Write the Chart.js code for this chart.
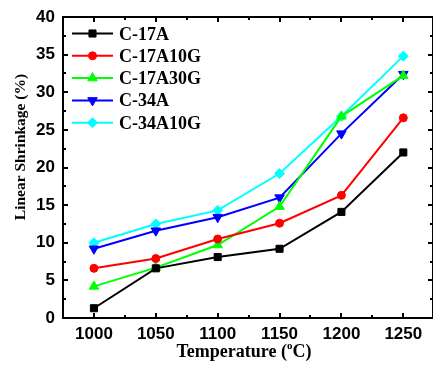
<!DOCTYPE html>
<html>
<head>
<meta charset="utf-8">
<script src="https://cdn.jsdelivr.net/npm/chart.js@4/dist/chart.umd.min.js"></script>
<style>
html,body{margin:0;padding:0;background:#fff;overflow:hidden;}
#wrap{width:433px;height:369px;position:relative;}
</style>
</head>
<body>
<div id="wrap"><canvas id="c" width="433" height="369"></canvas></div>
<script>
// ---- data ----
const temps = [1000, 1050, 1100, 1150, 1200, 1250];
const seriesNames = ['C-17A', 'C-17A10G', 'C-17A30G', 'C-34A', 'C-34A10G'];
const c17a    = [1.3, 6.6, 8.1, 9.2, 14.1, 22.0];
const c17a10g = [6.6, 7.9, 10.5, 12.6, 16.3, 26.6];
const c17a30g = [4.2, 6.7, 9.7, 14.8, 26.8, 32.2];
const c34a    = [9.2, 11.6, 13.4, 16.0, 24.5, 32.4];
const c34a10g = [10.0, 12.5, 14.3, 19.2, 26.8, 34.8];
const xTicks = [1000, 1050, 1100, 1150, 1200, 1250];
const yTicks = [0, 5, 10, 15, 20, 25, 30, 35, 40];

const seriesValues = [c17a, c17a10g, c17a30g, c34a, c34a10g];
const colors = ['#000000', '#ff0000', '#00ff00', '#0000ff', '#00ffff'];
const styles = [
  {ps: 'rect', r: 5, rot: 0},
  {ps: 'circle', r: 4, rot: 0},
  {ps: 'triangle', r: 5.5, rot: 0},
  {ps: 'triangle', r: 5.5, rot: 180},
  {ps: 'rectRot', r: 5, rot: 0}
];

const datasets = seriesNames.map((n, i) => ({
  label: n,
  data: temps.map((t, j) => ({x: t, y: seriesValues[i][j]})),
  borderColor: colors[i],
  backgroundColor: colors[i],
  borderWidth: 2,
  pointStyle: styles[i].ps,
  pointRadius: styles[i].r,
  pointRotation: styles[i].rot,
  pointBorderWidth: 1,
  tension: 0
}));

function drawMarker(ctx, st, x, y, color) {
  const r = st.r;
  let rad = st.rot * Math.PI / 180;
  ctx.save();
  ctx.fillStyle = color; ctx.strokeStyle = color; ctx.lineWidth = 1;
  ctx.beginPath();
  if (st.ps === 'rect') {
    const s = Math.SQRT1_2 * r;
    ctx.rect(x - s, y - s, 2 * s, 2 * s);
  } else if (st.ps === 'circle') {
    ctx.arc(x, y, r, 0, Math.PI * 2);
  } else if (st.ps === 'triangle') {
    ctx.moveTo(x + Math.sin(rad) * r, y - Math.cos(rad) * r);
    rad += 2 * Math.PI / 3;
    ctx.lineTo(x + Math.sin(rad) * r, y - Math.cos(rad) * r);
    rad += 2 * Math.PI / 3;
    ctx.lineTo(x + Math.sin(rad) * r, y - Math.cos(rad) * r);
    ctx.closePath();
  } else if (st.ps === 'rectRot') {
    ctx.moveTo(x - r, y); ctx.lineTo(x, y - r); ctx.lineTo(x + r, y); ctx.lineTo(x, y + r);
    ctx.closePath();
  }
  ctx.fill(); ctx.stroke();
  ctx.restore();
}

const framePlugin = {
  id: 'frame',
  afterDraw(chart) {
    const ctx = chart.ctx;
    const a = chart.chartArea;
    const xs = chart.scales.x, ys = chart.scales.y;
    ctx.save();
    ctx.strokeStyle = '#000';
    ctx.lineWidth = 2;
    ctx.strokeRect(a.left, a.top, a.right - a.left, a.bottom - a.top);
    ctx.beginPath();
    for (let v = 1000; v <= 1250; v += 25) {
      const px = Math.round(xs.getPixelForValue(v));
      const len = (v % 50 === 0) ? 5 : 3;
      ctx.moveTo(px, a.bottom); ctx.lineTo(px, a.bottom - len);
      ctx.moveTo(px, a.top); ctx.lineTo(px, a.top + len);
    }
    for (let v = 0; v <= 40; v += 2.5) {
      const py = Math.round(ys.getPixelForValue(v));
      const len = (v % 5 === 0) ? 5 : 3;
      ctx.moveTo(a.left, py); ctx.lineTo(a.left + len, py);
      ctx.moveTo(a.right, py); ctx.lineTo(a.right - len, py);
    }
    ctx.stroke();

    const rows = [33.5, 55.8, 78.1, 100.4, 122.7];
    ctx.font = 'bold 18px "Liberation Serif", "Times New Roman", serif';
    ctx.textBaseline = 'alphabetic';
    ctx.textAlign = 'left';
    seriesNames.forEach((n, i) => {
      const y = rows[i];
      ctx.strokeStyle = colors[i];
      ctx.lineWidth = 2;
      ctx.beginPath(); ctx.moveTo(72, y); ctx.lineTo(113, y); ctx.stroke();
      drawMarker(ctx, styles[i], 92.5, y, colors[i]);
      ctx.fillStyle = '#000';
      ctx.fillText(n, 119, y + 6);
    });

    ctx.fillStyle = '#000';
    ctx.save();
    ctx.translate(25, 147);
    ctx.rotate(-Math.PI / 2);
    ctx.font = 'bold 15.5px "Liberation Serif", "Times New Roman", serif';
    ctx.textAlign = 'center';
    ctx.textBaseline = 'alphabetic';
    ctx.fillText('Linear Shrinkage (%)', 0, 0);
    ctx.restore();

    const big = 'bold 18px "Liberation Serif", "Times New Roman", serif';
    const small = 'bold 11px "Liberation Serif", "Times New Roman", serif';
    const p1 = 'Temperature (', p2 = 'o', p3 = 'C)';
    ctx.font = big; const w1 = ctx.measureText(p1).width, w3 = ctx.measureText(p3).width;
    ctx.font = small; const w2 = ctx.measureText(p2).width;
    let x0 = 244 - (w1 + w2 + w3) / 2;
    const by = 357;
    ctx.textAlign = 'left';
    ctx.font = big; ctx.fillText(p1, x0, by); x0 += w1;
    ctx.font = small; ctx.fillText(p2, x0, by - 8); x0 += w2;
    ctx.font = big; ctx.fillText(p3, x0, by);
    ctx.restore();
  }
};

new Chart(document.getElementById('c'), {
  type: 'line',
  data: {datasets},
  options: {
    responsive: false,
    animation: false,
    devicePixelRatio: 1,
    layout: {autoPadding: false, padding: {top: 17, right: 0, left: 0, bottom: 0}},
    plugins: {legend: {display: false}, tooltip: {enabled: false}},
    scales: {
      x: {
        type: 'linear', min: 975, max: 1274,
        grid: {display: false, drawTicks: false},
        border: {display: false},
        afterBuildTicks: s => { s.ticks = xTicks.map(v => ({value: v})); },
        afterFit: s => { s.height = 51; s.paddingLeft = 0; s.paddingRight = 0; },
        ticks: {
          padding: 6, color: '#000', maxRotation: 0, autoSkip: false,
          callback: v => String(v),
          font: {family: '"Liberation Sans", Arial, sans-serif', size: 17, weight: 'bold'}
        }
      },
      y: {
        type: 'linear', min: 0, max: 40,
        grid: {display: false, drawTicks: false},
        border: {display: false},
        afterBuildTicks: s => { s.ticks = yTicks.map(v => ({value: v})); },
        afterFit: s => { s.width = 63; s.paddingTop = 0; s.paddingBottom = 0; },
        ticks: {
          padding: 8, color: '#000', autoSkip: false,
          callback: v => String(v),
          font: {family: '"Liberation Sans", Arial, sans-serif', size: 17, weight: 'bold'}
        }
      }
    }
  },
  plugins: [framePlugin]
});
</script>
</body>
</html>
